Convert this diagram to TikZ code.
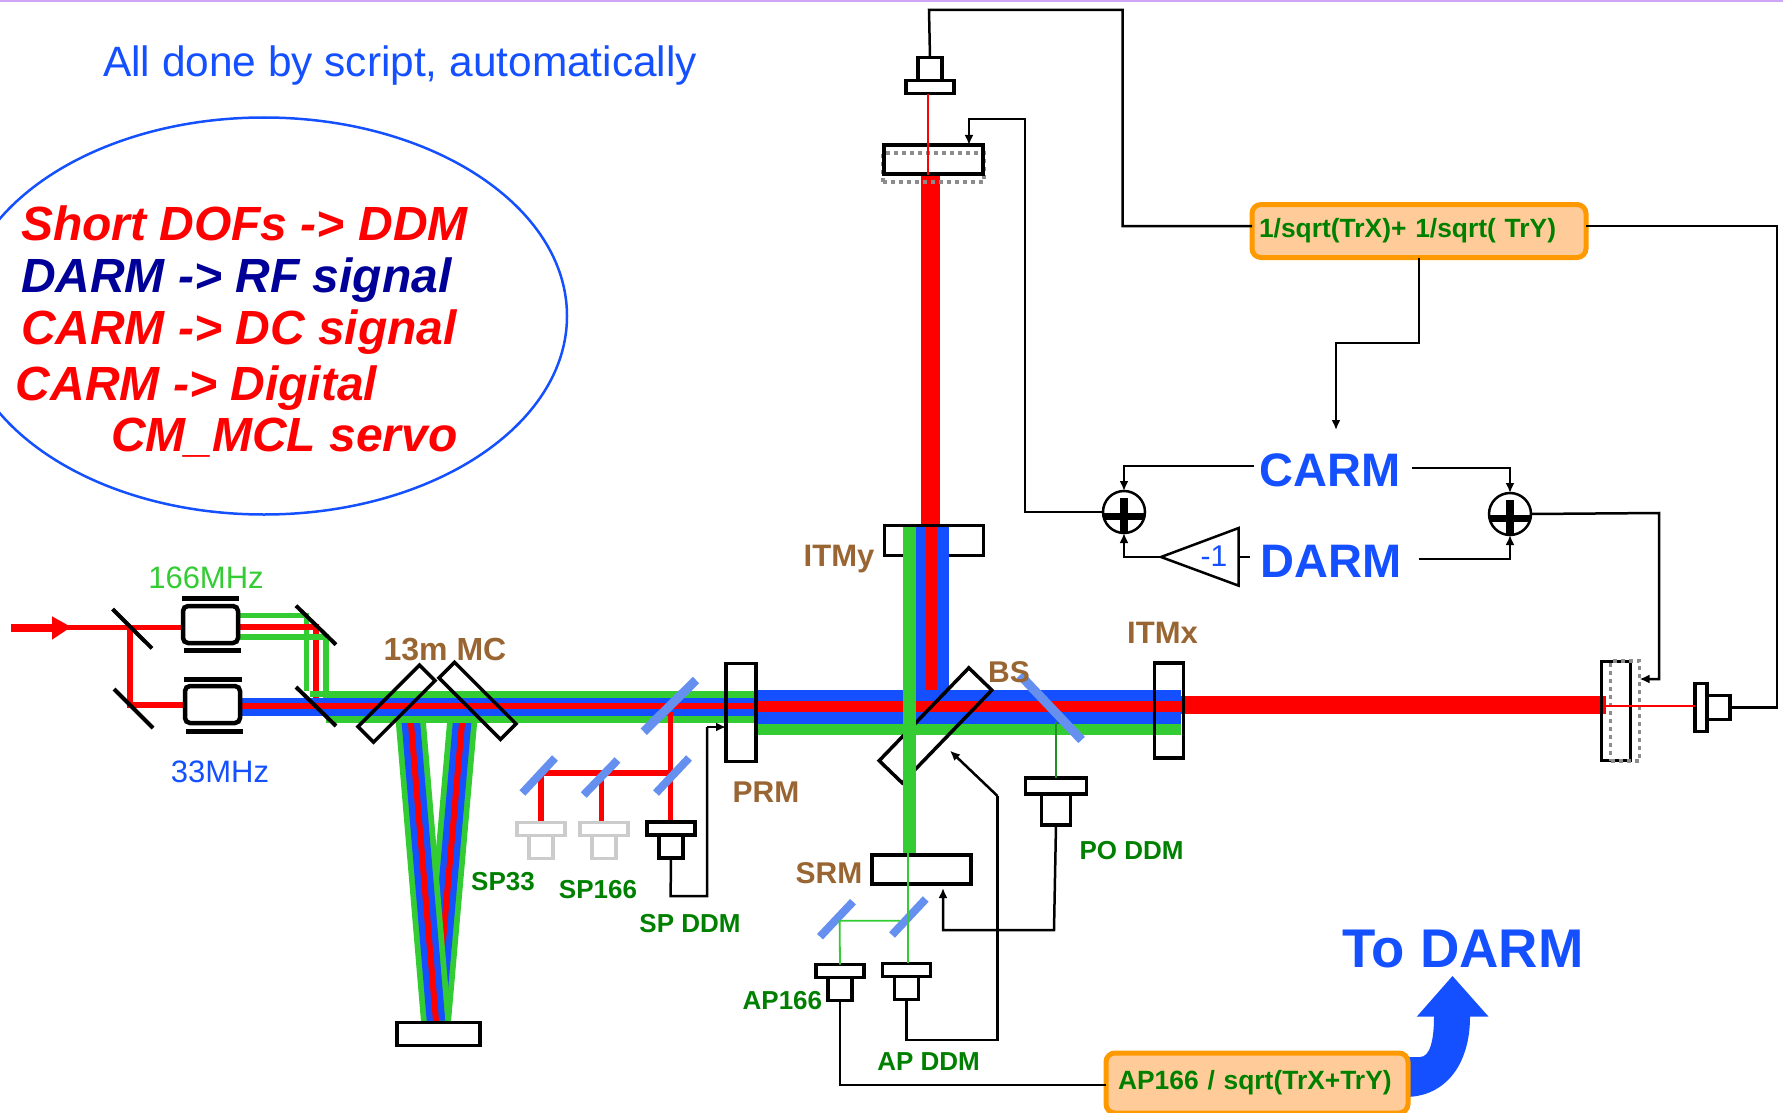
\documentclass[tikz,border=0pt]{standalone}
\usepackage{fontspec}
\setmainfont{Liberation Sans}
\usetikzlibrary{positioning}
\usetikzlibrary{arrows.meta}
\definecolor{beamred}{HTML}{FF0000}
\definecolor{beamblue}{HTML}{1450FF}
\definecolor{beamgreen}{HTML}{33CC33}
\definecolor{pickblue}{HTML}{6690F0}
\definecolor{tagbrown}{HTML}{996633}
\definecolor{taggreen}{HTML}{008000}
\definecolor{navyblue}{HTML}{000099}
\definecolor{boxorange}{HTML}{FF9900}
\definecolor{boxfill}{HTML}{FFCC99}
\definecolor{topline}{HTML}{CFA6F5}
\newcommand{\fsz}[1]{\fontsize{#1}{#1}\selectfont}
\tikzset{
  optic/.style={draw=black,line width=3.5pt,inner sep=0pt,outer sep=0pt},
  ghost/.style={draw=black!45,line width=3.5pt,inner sep=0pt,outer sep=0pt,dash pattern=on 4pt off 4pt},
  pdplate/.style={optic,minimum width=#1,minimum height=13pt},
  pdplate/.default=48pt,
  pdbody/.style={optic,minimum width=24pt,minimum height=23pt},
  graypd/.style={draw=black!20},
  stopmirror/.style={line width=4pt,black},
  pickmirror/.style={line width=9pt,pickblue},
  wire/.style={line width=2.5pt,black},
  feed/.style={wire,-{Latex[length=10pt,width=9pt]}},
  taglabel/.style={inner sep=0pt,outer sep=0pt,font=\fsz{26}\bfseries,text=taggreen},
  partlabel/.style={inner sep=0pt,outer sep=0pt,font=\fsz{30}\bfseries,text=tagbrown},
  mhzlabel/.style={inner sep=0pt,outer sep=0pt,font=\fsz{31}},
  servolabel/.style={inner sep=6pt,outer sep=0pt,font=\fsz{47}\bfseries,text=beamblue},
  rulelabel/.style={inner sep=0pt,outer sep=0pt,anchor=base west,font=\fsz{48}\bfseries\itshape},
  mixbox/.style={draw=boxorange,fill=boxfill,line width=5pt,rounded corners=9pt,align=left,outer sep=0pt,inner ysep=0pt,font=\fsz{26.4}\bfseries,text=taggreen},
  summer/.style={circle,draw=black,fill=white,line width=2.5pt,minimum size=42pt,inner sep=0pt,outer sep=0pt}
}
\begin{document}
\begin{tikzpicture}[x=1pt,y=-1pt]
    \useasboundingbox (0,0) rectangle (1783,1113);
    \fill[topline] (0,0) rectangle (1783,2);
    % Text on the left
    \node[anchor=base west,inner sep=0pt,font=\fsz{42.4},text=beamblue] (title) at (103,76.5) {All done by script, automatically};
    \draw[beamblue,line width=2.5pt] (264,316) ellipse (303 and 198.5);
    \node[rulelabel,text=beamred] (rule1) at (21,240.5) {Short DOFs -> DDM};
    \node[rulelabel,text=navyblue] (rule2) at (21,292) {DARM -> RF signal};
    \node[rulelabel,text=beamred] (rule3) at (21,344) {CARM -> DC signal};
    \node[rulelabel,text=beamred] (rule4) at (16,400.5) {CARM -> Digital};
    \node[rulelabel,text=beamred] (rule5) at (111,451.5) {CM\_MCL servo};
    % Mode cleaner legs
    \foreach \topx in {463,410} {
        \foreach \c/\w in {beamgreen/30,beamblue/18.5,beamred/6}
            \draw[\c,line width=\w pt] (\topx,712) -- (436,1021);
    }
    % Input and modulators
    \draw[beamred,line width=7.7pt] (11,628) -- (55,628);
    \fill[beamred] (52,616.3) -- (71,627) -- (52,639.7) -- cycle;
    \draw[beamred,line width=5pt] (65,627) -- (182,627);
    \draw[beamred,line width=5.5pt] (130,627) -- (130,705) -- (184,705);
    \draw[beamgreen,line width=5.5pt] (239,615.5) -- (306.5,615.5) -- (306.5,691);
    \draw[beamred,line width=5.5pt] (239,627) -- (316,627) -- (316,706);
    \draw[beamgreen,line width=5.5pt] (239,637) -- (326,637) -- (326,716);
    % Beam up to PRM
    \draw[beamgreen,line width=6.5pt] (310,694) -- (755,694);
    \draw[beamgreen,line width=6.5pt] (326,719.5) -- (755,719.5);
    \draw[beamgreen,line width=25pt] (326,706.5) -- (755,706.5);
    \draw[beamblue,line width=18pt] (241,706.5) -- (755,706.5);
    \draw[beamred,line width=6.5pt] (241,706) -- (755,706);
    % Arm y
    \node[optic,minimum width=99pt,minimum height=30pt] (itmy) at (934,540.5) {};
    \draw[beamblue,line width=33pt] (932.5,527) -- (932.5,692);
    \draw[beamred,line width=18.5pt] (930.5,175) -- (930.5,524);
    \draw[beamred,line width=11pt] (931.3,527) -- (931.3,703);
    % Arm x and beam past PRM
    \draw[beamblue,line width=34pt] (755,707) -- (1181,707);
    \draw[beamred,line width=11pt] (755,706.5) -- (1181,706.5);
    \draw[beamgreen,line width=11pt] (755,729.5) -- (1181,729.5);
    \draw[beamred,line width=18pt] (1181,705) -- (1606,705);
    % Pick-off beams
    \draw[beamred,line width=5.5pt] (670.6,712) -- (670.6,822);
    \draw[beamred,line width=6pt] (670.6,773) -- (541,773) -- (541,822);
    \draw[beamred,line width=5.5pt] (601.6,773) -- (601.6,822);
    % Mirrors
    \foreach \ax/\ay/\bx/\by in {112.5/609/152/648.4,114/689/153/728,296/605.7/336/644.7,296/687/336/726}
        \draw[stopmirror] (\ax,\ay) -- (\bx,\by);
    \node[optic,minimum width=87pt,minimum height=22pt,rotate=45] (mc1) at (396.5,703.7) {};
    \node[optic,minimum width=87pt,minimum height=22pt,rotate=-45] (mc2) at (477.5,700.8) {};
    \node[optic,fill=white,minimum width=83pt,minimum height=23pt] (mc3) at (438.5,1033.8) {};
    \node[optic,rounded corners=5pt,line width=4.5pt,minimum width=55pt,minimum height=37pt] (eom1) at (210.5,624.5) {};
    \node[optic,rounded corners=5pt,line width=4.5pt,minimum width=55pt,minimum height=37pt] (eom2) at (212.5,704.5) {};
    \foreach \ax/\bx/\by in {182/239/598.4,184/241/650.6,184/242/679,186/243/731}
        \draw[line width=5pt] (\ax,\by) -- (\bx,\by);
    \node[optic,minimum width=30pt,minimum height=98pt] (prm) at (741,712.5) {};
    \node[optic,minimum width=129pt,minimum height=32pt,rotate=46] (bs) at (935.5,725.4) {};
    \node[optic,minimum width=29pt,minimum height=95pt] (itmx) at (1169,710.5) {};
    % Beam down to SRM goes over BS
    \draw[beamgreen,line width=13pt] (909.5,527) -- (909.5,854);
    \draw[pickmirror] (696,680) -- (643.7,731.7);
    \foreach \ax/\ay/\bx/\by in {555/758/522.4/793,617.5/760/583.7/795,689/758/656/793,853/901.7/820/936.7,925.7/899/892/935}
        \draw[pickmirror,line width=8pt] (\ax,\ay) -- (\bx,\by);
    % End mirrors
    \node[ghost,minimum width=101pt,minimum height=29pt] (etmyghost) at (933.5,167.5) {};
    \node[optic,minimum width=99pt,minimum height=29pt] (etmy) at (933.5,159.5) {};
    \node[optic,minimum width=29pt,minimum height=99pt] (etmx) at (1616,711) {};
    \node[ghost,minimum width=29pt,minimum height=100pt] (etmxghost) at (1625,711) {};
    % Detectors
    \node[pdplate,graypd] (sp33p) at (541,829) {};
    \node[pdbody,graypd,below=0pt of sp33p] (sp33b) {};
    \node[pdplate,graypd] (sp166p) at (604,829) {};
    \node[pdbody,graypd,below=0pt of sp166p] (sp166b) {};
    \node[pdplate] (spddmp) at (671,828.5) {};
    \node[pdbody,below=0pt of spddmp] (spddmb) {};
    \node[pdplate=61pt,minimum height=16pt] (poddmp) at (1056,786) {};
    \node[pdbody,minimum width=29pt,minimum height=31pt,below=0pt of poddmp] (poddmb) {};
    \node[pdplate] (ap166p) at (840,971) {};
    \node[pdbody,below=0pt of ap166p] (ap166b) {};
    \node[pdplate] (apddmp) at (906.5,970) {};
    \node[pdbody,below=0pt of apddmp] (apddmb) {};
    \node[pdplate] (dyp) at (930,87) {};
    \node[pdbody,above=0pt of dyp] (dyb) {};
    \node[optic,minimum width=12pt,minimum height=48pt] (dxp) at (1701,707.5) {};
    \node[optic,minimum width=23pt,minimum height=24pt,right=0pt of dxp] (dxb) {};
    % Thin beams
    \draw[beamred,line width=1.8pt] (928,94) -- (928,175);
    \draw[beamred,line width=1.8pt] (1606,705.7) -- (dxp.west |- 1606,705.7);
    \draw[beamgreen!70!black,line width=1.5pt] (1056,721.7) -- (poddmp.north);
    \node[optic,minimum width=99pt,minimum height=29pt] (srm) at (921.5,869.5) {};
    \draw[beamgreen,line width=1.8pt] (908,853) -- (908,963);
    \draw[beamgreen,line width=1.8pt] (900,920.7) -- (839.6,920.7) -- (ap166p.north);
    \draw[pickmirror] (1020,675) -- (1081.6,740);
    % Labels
    \node[mhzlabel,text=beamgreen] (lab166) at (206,578) {166MHz};
    \node[mhzlabel,text=beamblue] (lab33) at (220,772) {33MHz};
    \node[partlabel,font=\fsz{32}\bfseries] (labmc) at (445,649.5) {13m MC};
    \node[partlabel] (labprm) at (766,791.7) {PRM};
    \node[partlabel] (labsrm) at (829,873) {SRM};
    \node[partlabel] (labbs) at (1009,672) {BS};
    \node[partlabel,font=\fsz{31}\bfseries,anchor=base] (labitmy) at (839,566) {ITMy};
    \node[partlabel,font=\fsz{31}\bfseries] (labitmx) at (1162.5,632.7) {ITMx};
    \node[taglabel] (labsp33) at (503,882) {SP33};
    \node[taglabel] (labsp166) at (598,890) {SP166};
    \node[taglabel] (labspddm) at (690,924) {SP DDM};
    \node[taglabel] (labpoddm) at (1131.5,850.6) {PO DDM};
    \node[taglabel] (labap166) at (782.4,1000.7) {AP166};
    \node[taglabel] (labapddm) at (928.6,1061.7) {AP DDM};
    % Servo
    \node[servolabel] (carm) at (1330,470) {CARM};
    \node[servolabel] (darm) at (1331,561.5) {DARM};
    \node[summer] (sumy) at (1124,512) {};
    \node[summer] (sumx) at (1510,514) {};
    \foreach \n/\cx/\cy in {sumy/1124/516,sumx/1510/518} {
        \draw[line width=7pt] (\cx-20,\cy) -- (\cx+20,\cy);
        \draw[line width=8pt] (\cx,\cy-18) -- (\cx,\cy+17);
    }
    \coordinate (gaintip) at (1161,557);
    \coordinate (gainback) at (1238.7,557);
    \draw[wire] (1238.7,528) -- (1238.7,585.7) -- (gaintip) -- cycle;
    \node[inner sep=0pt,font=\fsz{30},text=beamblue] (gainval) at (1214,556) {-1};
    \draw[wire] ([xshift=-5pt]darm.west |- gainback) -- (gainback);
    \draw[feed] (gaintip) -| (sumy.south);
    \draw[feed] ([yshift=4pt]carm.west) -| (sumy.north);
    \draw[feed] ([xshift=5pt,yshift=2pt]carm.east) -| (sumx.north);
    \draw[feed] ([xshift=11pt,yshift=2.5pt]darm.east) -| (sumx.south);
    \draw[feed] (sumy.west) -- (1025,512) -- (1025,119) -- (969,119) -- (969,119 |- etmy.north);
    \draw[feed] (sumx.east) -- (1659,513) -- (1659,679) -- (1659,679 -| etmxghost.east);
    % Mixers
    \node[mixbox,minimum height=53pt,text width=320pt,inner xsep=7pt] (trbox) at (1419,231) {1/sqrt(TrX)+ 1/sqrt( TrY)};
    \fill[beamblue] (1452.5,976) -- (1488.6,1016.7) -- (1470,1016.7) .. controls (1470,1065) and (1445,1097) .. (1405,1097) -- (1405,1057) -- (1420,1057) .. controls (1430,1057) and (1434,1040) .. (1434,1016.7) -- (1416.7,1016.7) -- cycle;
    \node[mixbox,minimum height=60pt,text width=278pt,inner xsep=12pt] (apbox) at (1257,1083) {AP166 / sqrt(TrX+TrY)};
    \node[inner sep=0pt,font=\fsz{54.5}\bfseries,text=beamblue] (todarm) at (1463,949.5) {To DARM};
    \coordinate (carmin) at (1336,430);
    \coordinate (rturn) at (1777,707.5);
    \draw[wire] ([yshift=5pt]trbox.west) -- (1122.6,226) -- (1122.6,10) -- (929,10) -- (dyb.north);
    \draw[wire] ([yshift=5pt]trbox.east) -| (rturn) -- (dxb.east);
    \draw[feed] (trbox.south) -- (1419,343) -- (1336,343) -- (carmin);
    \draw[wire] (ap166b.south) |- ([yshift=-2pt]apbox.west);
    \draw[wire] (spddmb.south) -- (670.6,896) -- (707,896) -- (707,727);
    \draw[feed] (707,727) -- (707,727 -| prm.west);
    \draw[feed] (poddmb.south) -- (1054,930) -- (943,930) -- (943,888);
    \draw[wire] (apddmb.south) -- (906.5,1040) -- (997.5,1040) -- (997.5,796);
    \draw[feed] (997.5,796) -- (950,750.7);
\end{tikzpicture}
\end{document}
